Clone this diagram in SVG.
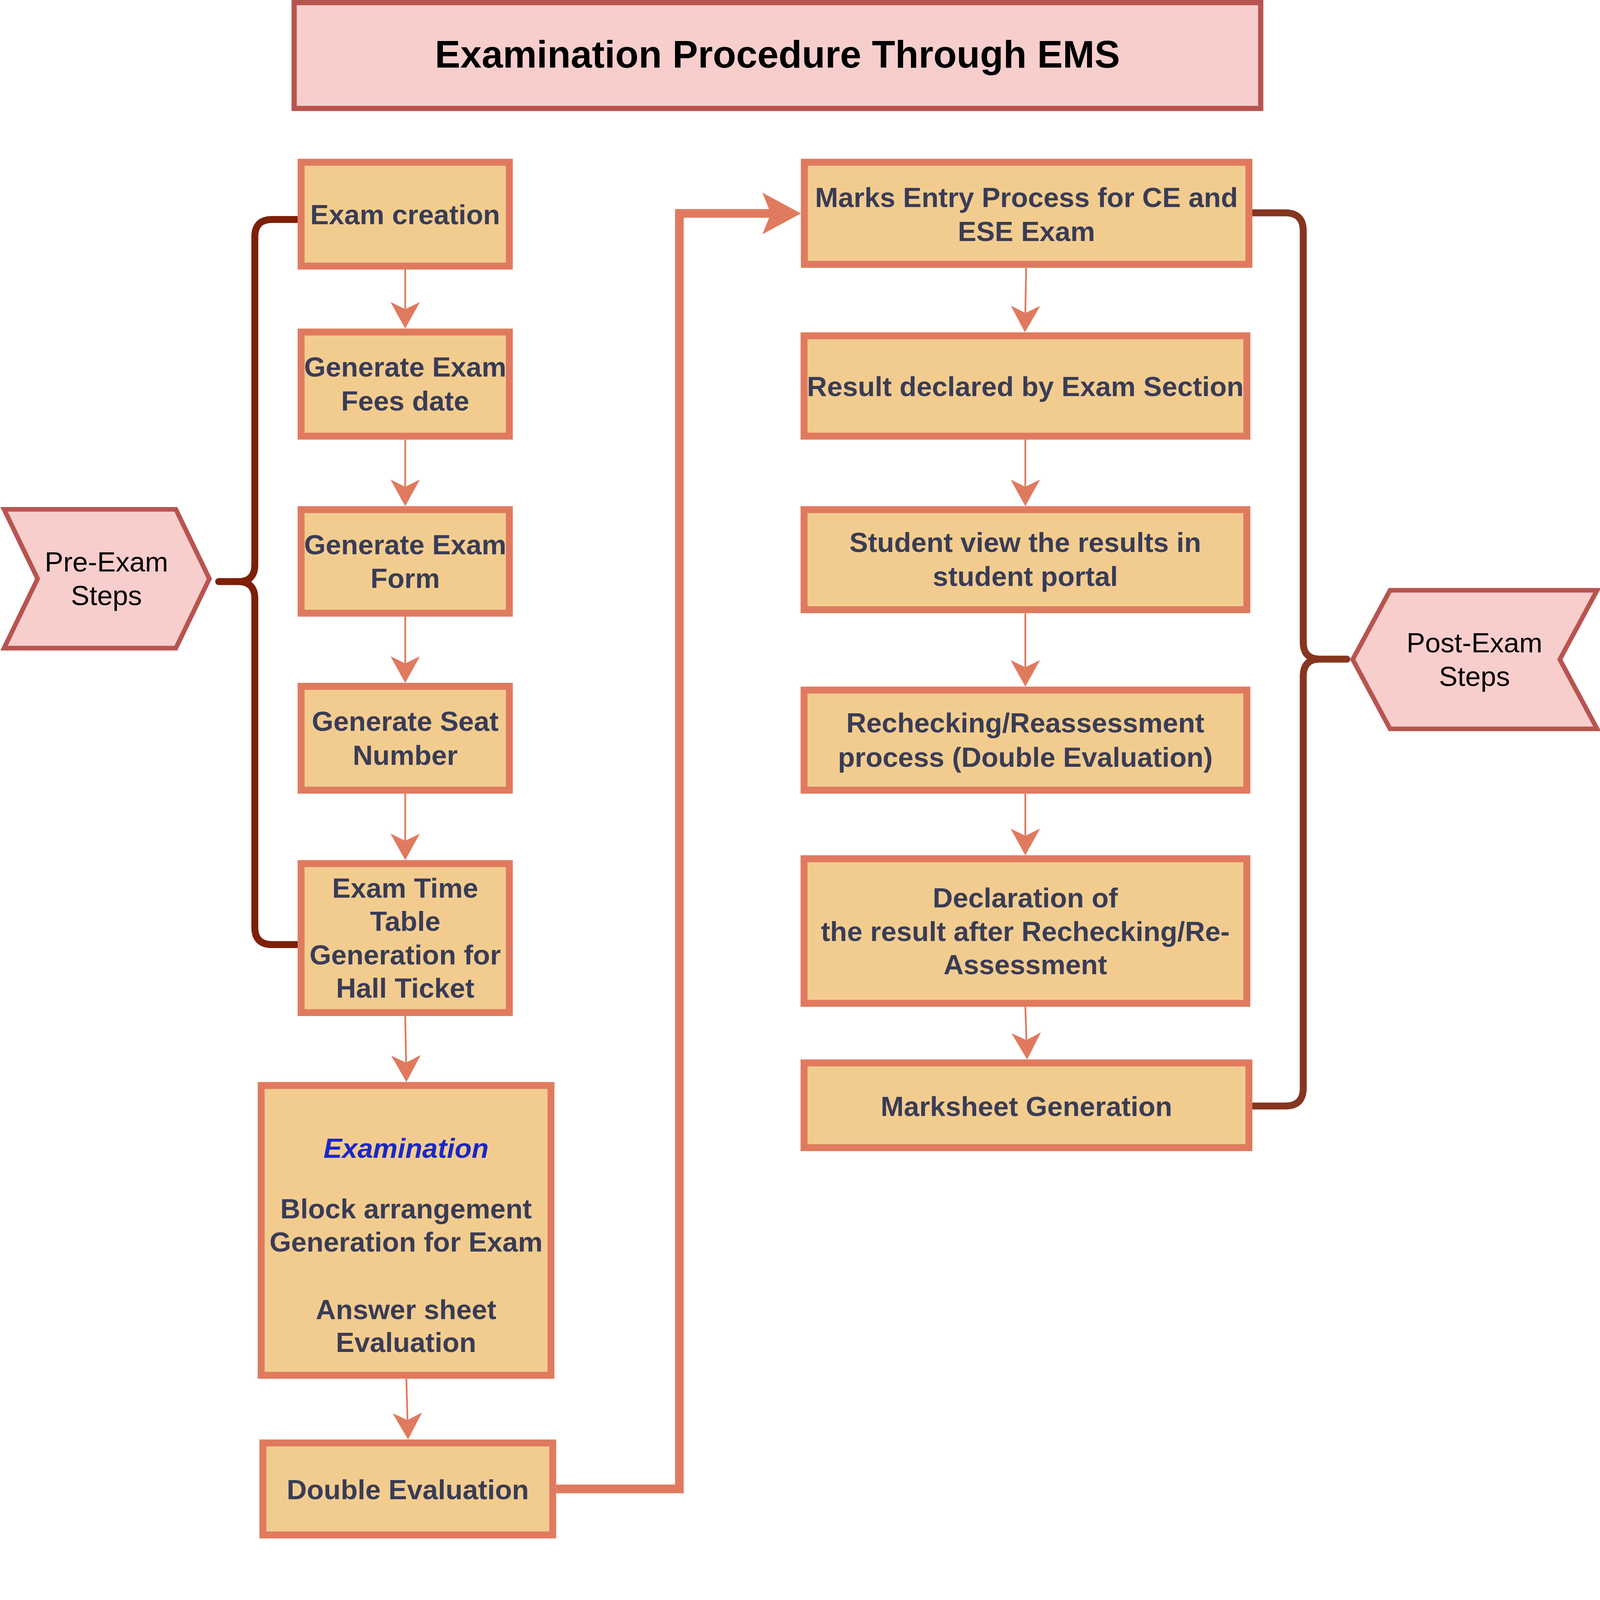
<svg xmlns="http://www.w3.org/2000/svg" width="5532" height="5322" viewBox="0 0 5532 5322" preserveAspectRatio="xMinYMin meet">
<style>
:root{width:100vw;height:100vh}
.box{fill:#F2CC8F;stroke:#E07A5F;stroke-width:24}
.tag{fill:#F8CECC;stroke:#B85450;stroke-width:16}
.t{font-family:"Liberation Sans",Arial,Helvetica,sans-serif;font-size:96px;font-weight:bold;fill:#393C56;text-anchor:middle}
.tn{font-family:"Liberation Sans",Arial,Helvetica,sans-serif;font-size:96px;fill:#000000;text-anchor:middle}
.thin{fill:none;stroke:#E07A5F;stroke-width:6}
.big{fill:none;stroke:#E07A5F;stroke-width:30;stroke-linejoin:miter}
.brace{fill:none;stroke-width:24;stroke-linecap:round;stroke-linejoin:round}
</style>
<defs>
<marker id="ah" markerUnits="userSpaceOnUse" orient="auto" overflow="visible" markerWidth="1" markerHeight="1" refX="0" refY="0"><path d="M67,0 L-25,-51 L0,0 L-25,51 Z" fill="#E07A5F"/></marker>
<marker id="ahBig" markerUnits="userSpaceOnUse" orient="auto" overflow="visible" markerWidth="1" markerHeight="1" refX="0" refY="0"><path d="M104,0 L-29,-72 L0,0 L-29,72 Z" fill="#E07A5F"/></marker>
</defs>
<rect width="5532" height="5322" fill="#FFFFFF"/>

<g id="brackets">
<path class="brace" stroke="#7E1F08" d="M1029,759 H941 Q881,759 881,819 V1953 Q881,2011 823,2011 H756 M823,2011 Q881,2011 881,2069 V3206 Q881,3266 941,3266 H1029"/>
<path class="brace" stroke="#86361F" d="M4330,736 H4444 Q4506,736 4506,798 V2220 Q4506,2279 4563,2279 H4657 M4563,2279 Q4506,2279 4506,2338 V3762 Q4506,3824 4444,3824 H4330"/>
</g>

<g id="connectors">
<path class="thin" marker-end="url(#ah)" d="M1401,932 V1069"/>
<path class="thin" marker-end="url(#ah)" d="M1401,1520 V1683"/>
<path class="thin" marker-end="url(#ah)" d="M1401,2132 V2294"/>
<path class="thin" marker-end="url(#ah)" d="M1401,2744 V2907"/>
<path class="thin" marker-end="url(#ah)" d="M1401,3513 L1404,3674"/>
<path class="thin" marker-end="url(#ah)" d="M1405,4767 L1409,4910"/>
<path class="thin" marker-end="url(#ah)" d="M3548,926 L3545,1082"/>
<path class="thin" marker-end="url(#ah)" d="M3545,1520 V1683"/>
<path class="thin" marker-end="url(#ah)" d="M3545,2120 V2307"/>
<path class="thin" marker-end="url(#ah)" d="M3545,2744 V2890"/>
<path class="thin" marker-end="url(#ah)" d="M3545,3481 L3549,3596"/>
<path class="big" marker-end="url(#ahBig)" d="M1923,5148 H2349 V738 H2665"/>
</g>

<g id="title">
<rect x="1017" y="9" width="3342" height="366" fill="#F8CECC" stroke="#B85450" stroke-width="18"/>
<text x="2688" y="234" font-family="'Liberation Sans',Arial,Helvetica,sans-serif" font-size="132" font-weight="bold" fill="#000000" text-anchor="middle">Examination Procedure Through EMS</text>
</g>

<g id="pre-exam">
<polygon class="tag" points="14,1761 608,1761 724,2001 608,2241 14,2241 130,2001"/>
<text class="tn" x="368" y="1976">Pre-Exam</text>
<text class="tn" x="368" y="2092">Steps</text>
</g>

<g id="post-exam">
<polygon class="tag" points="4677,2280 4806,2041 5522,2041 5393,2280 5522,2520 4806,2520"/>
<text class="tn" x="5098" y="2255">Post-Exam</text>
<text class="tn" x="5098" y="2371">Steps</text>
</g>

<g id="exam-creation">
<rect class="box" x="1041" y="561" width="720" height="359"/>
<text class="t" x="1401" y="775">Exam creation</text>
</g>

<g id="fees-date">
<rect class="box" x="1041" y="1148" width="720" height="360"/>
<text class="t" x="1401" y="1302">Generate Exam</text>
<text class="t" x="1401" y="1419">Fees date</text>
</g>

<g id="exam-form">
<rect class="box" x="1041" y="1762" width="720" height="358"/>
<text class="t" x="1401" y="1916">Generate Exam</text>
<text class="t" x="1401" y="2033">Form</text>
</g>

<g id="seat-number">
<rect class="box" x="1041" y="2373" width="720" height="359"/>
<text class="t" x="1401" y="2527">Generate Seat</text>
<text class="t" x="1401" y="2644">Number</text>
</g>

<g id="time-table">
<rect class="box" x="1041" y="2986" width="720" height="515"/>
<text class="t" x="1401" y="3104">Exam Time</text>
<text class="t" x="1401" y="3219">Table</text>
<text class="t" x="1401" y="3334">Generation for</text>
<text class="t" x="1401" y="3449">Hall Ticket</text>
</g>

<g id="examination">
<rect class="box" x="903" y="3753" width="1002" height="1002"/>
<text class="t" x="1404" y="4003" font-style="italic" style="fill:#1B27C6">Examination</text>
<text class="t" x="1404" y="4213">Block arrangement</text>
<text class="t" x="1404" y="4327">Generation for Exam</text>
<text class="t" x="1404" y="4561">Answer sheet</text>
<text class="t" x="1404" y="4675">Evaluation</text>
</g>

<g id="double-evaluation">
<rect class="box" x="909" y="4989" width="1002" height="318"/>
<text class="t" x="1410" y="5183">Double Evaluation</text>
</g>

<g id="marks-entry">
<rect class="box" x="2781" y="561" width="1537" height="353"/>
<text class="t" x="3549" y="716">Marks Entry Process for CE and</text>
<text class="t" x="3549" y="833">ESE Exam</text>
</g>

<g id="result-declared">
<rect class="box" x="2780" y="1161" width="1531" height="347"/>
<text class="t" x="3545" y="1369">Result declared by Exam Section</text>
</g>

<g id="student-view">
<rect class="box" x="2780" y="1762" width="1531" height="346"/>
<text class="t" x="3545" y="1909">Student view the results in</text>
<text class="t" x="3545" y="2026">student portal</text>
</g>

<g id="rechecking">
<rect class="box" x="2780" y="2386" width="1531" height="346"/>
<text class="t" x="3545" y="2533">Rechecking/Reassessment</text>
<text class="t" x="3545" y="2651">process (Double Evaluation)</text>
</g>

<g id="declaration">
<rect class="box" x="2780" y="2969" width="1531" height="500"/>
<text class="t" x="3545" y="3138">Declaration of</text>
<text class="t" x="3545" y="3253">the result after Rechecking/Re-</text>
<text class="t" x="3545" y="3368">Assessment</text>
</g>

<g id="marksheet">
<rect class="box" x="2780" y="3675" width="1538" height="293"/>
<text class="t" x="3549" y="3858">Marksheet Generation</text>
</g>
</svg>
